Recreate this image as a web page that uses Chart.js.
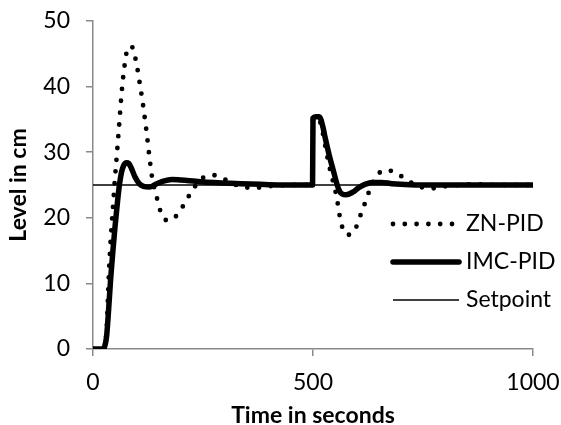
<!DOCTYPE html>
<html>
<head>
<meta charset="utf-8">
<script src="https://cdn.jsdelivr.net/npm/chart.js@4.4.1/dist/chart.umd.min.js"></script>
<style>
  html, body { margin: 0; padding: 0; background: #fff; }
  #wrap { width: 561px; height: 425px; }
</style>
</head>
<body>
<div id="wrap"><canvas id="c" width="561" height="425"></canvas></div>
<script>
// Tank level response: Ziegler-Nichols PID vs IMC-PID, setpoint 25 cm,
// with a load disturbance at t = 500 s.
const znTime = [0, 24, 28, 31, 34, 37, 42, 46, 49, 52, 54.5, 56.5, 58.5, 60.5, 62.5, 64.5, 67, 69.5, 72.5, 76, 81, 87, 92, 97, 102, 106, 110, 114, 117.5, 121, 124, 127, 130, 133.5, 139, 145, 151, 157, 164, 174, 185, 194, 202, 215, 229, 244, 257, 270, 283, 296, 310, 325, 345, 371, 398, 430, 460, 499,
  500, 512, 520, 528, 535.5, 543, 549, 554, 558, 562, 569, 578, 588, 596, 602, 610, 619, 628, 639, 648, 657, 668, 683, 695, 706, 720, 735, 751, 778, 800, 830, 870, 920, 1000];
const znLevel = [0, 0, 0.8, 3, 8, 12.8, 18.5, 22.2, 25.2, 27.8, 29.8, 31.6, 33.3, 35.1, 36.9, 38.6, 40.4, 42.0, 43.6, 45.1, 45.9, 46.2, 45.5, 44.1, 42.3, 40.6, 38.9, 37.1, 35.3, 33.5, 31.8, 30.0, 28.3, 26.5, 24.6, 23.1, 21.5, 20.4, 19.7, 19.6, 20.0, 20.7, 21.5, 23.0, 24.5, 25.8, 26.3, 26.5, 26.4, 26.0, 25.5, 25.0, 24.6, 24.6, 24.8, 24.95, 25, 25,
  35, 35.2, 33.6, 30.9, 28.3, 26.2, 24.6, 23.1, 21.4, 19.8, 18.1, 17.4, 17.6, 18.3, 19.2, 20.8, 22.4, 24.1, 25.9, 26.7, 27.1, 27.3, 27.0, 26.6, 26.1, 25.5, 24.9, 24.6, 24.5, 24.8, 25.0, 25.1, 25.0, 25];

const imcTime = [0, 22, 27, 31, 35, 40, 45, 50, 55, 60, 65, 70, 76, 81, 87, 95, 105, 115, 128, 145, 160, 179, 200, 244, 312, 400, 499,
  500, 506, 513, 518, 523, 528, 537, 547, 555, 561, 567, 575, 590, 604, 618, 635, 655, 680, 720, 800, 1000];
const imcLevel = [0, 0, 0.5, 2.0, 5.5, 10.6, 14.8, 18.6, 22.0, 25.0, 27.0, 28.0, 28.4, 28.3, 27.6, 26.3, 25.2, 24.8, 24.7, 25.2, 25.6, 25.85, 25.75, 25.5, 25.25, 25.05, 25,
  35.2, 35.4, 35.4, 35.0, 33.7, 32.1, 29.5, 27.0, 25.0, 24.0, 23.6, 23.5, 23.9, 24.6, 25.1, 25.4, 25.4, 25.2, 25.05, 25, 25];

const setpointTime = [0, 1000];
const setpointLevel = [25, 25];

const seriesNames = ['ZN-PID', 'IMC-PID', 'Setpoint'];
const xTickValues = [0, 500, 1000];
const yTickValues = [0, 10, 20, 30, 40, 50];
const xTitle = 'Time in seconds';
const yTitle = 'Level in cm';

const FONT = 'Lato';
const AXIS_GREY = '#898989';

function toPoints(times, levels) {
  return times.map((t, i) => ({ x: t, y: levels[i] }));
}

// Keep the plot box fixed: drop the extra room the axes ask for around their end labels.
function fixAxisBox(size) {
  return s => {
    if (s.isHorizontal()) s.height = size; else s.width = size;
    s.paddingTop = 0; s.paddingBottom = 0; s.paddingLeft = 0; s.paddingRight = 0;
  };
}

// Legend drawn inside the plot area, lower right, one row per series.
const innerLegend = {
  id: 'innerLegend',
  afterDatasetsDraw(chart) {
    const { ctx, chartArea } = chart;
    const lineStart = chartArea.left + 300;
    const lineEnd = chartArea.left + 366;
    const textX = chartArea.left + 373;
    const firstRow = chartArea.top + 203;
    const rowGap = 38;
    chart.data.datasets.forEach((ds, i) => {
      const y = firstRow + i * rowGap;
      ctx.save();
      ctx.strokeStyle = ds.borderColor;
      ctx.lineWidth = ds.borderWidth;
      ctx.lineCap = ds.borderCapStyle || 'butt';
      ctx.setLineDash(ds.borderDash || []);
      ctx.beginPath();
      ctx.moveTo(lineStart, y);
      ctx.lineTo(lineEnd, y);
      ctx.stroke();
      ctx.setLineDash([]);
      ctx.fillStyle = '#000';
      ctx.font = '23px ' + FONT;
      ctx.textAlign = 'left';
      ctx.textBaseline = 'middle';
      ctx.fillText(ds.label, textX, y);
      ctx.restore();
    });
  }
};

function draw() {
  Chart.defaults.font.family = FONT;
  Chart.defaults.color = '#000';

  new Chart(document.getElementById('c'), {
    type: 'line',
    data: {
      datasets: [
        {
          label: seriesNames[0],
          data: toPoints(znTime, znLevel),
          borderColor: '#000',
          borderWidth: 4.8,
          borderDash: [0, 11.8],
          borderCapStyle: 'round',
          pointRadius: 0,
          cubicInterpolationMode: 'monotone',
          fill: false
        },
        {
          label: seriesNames[1],
          data: toPoints(imcTime, imcLevel),
          borderColor: '#000',
          borderWidth: 5.5,
          borderCapStyle: 'round',
          borderJoinStyle: 'round',
          pointRadius: 0,
          cubicInterpolationMode: 'monotone',
          fill: false
        },
        {
          label: seriesNames[2],
          data: toPoints(setpointTime, setpointLevel),
          borderColor: '#000',
          borderWidth: 1.4,
          pointRadius: 0,
          tension: 0,
          fill: false
        }
      ]
    },
    options: {
      responsive: false,
      animation: false,
      devicePixelRatio: 1,
      layout: { padding: { top: 21, right: 28, left: 0, bottom: 0 } },
      plugins: {
        legend: { display: false },
        tooltip: { enabled: false }
      },
      scales: {
        x: {
          type: 'linear',
          min: 0,
          max: 1000,
          afterBuildTicks: s => { s.ticks = xTickValues.map(v => ({ value: v })); },
          afterFit: fixAxisBox(76),
          border: { display: true, color: AXIS_GREY, width: 1.5 },
          grid: { drawOnChartArea: false, drawTicks: true, tickLength: 7, color: AXIS_GREY, lineWidth: 1.5 },
          ticks: { font: { size: 23 }, padding: 13, maxRotation: 0, color: '#000', callback: v => String(v) },
          title: {
            display: true,
            text: xTitle,
            font: { size: 23, weight: 'bold', lineHeight: 1 },
            padding: { top: 0, bottom: -2 },
            color: '#000'
          }
        },
        y: {
          type: 'linear',
          min: 0,
          max: 50,
          afterBuildTicks: s => { s.ticks = yTickValues.map(v => ({ value: v })); },
          afterFit: fixAxisBox(93),
          border: { display: true, color: AXIS_GREY, width: 1.5 },
          grid: { drawOnChartArea: false, drawTicks: true, tickLength: 7, color: AXIS_GREY, lineWidth: 1.5 },
          ticks: { font: { size: 23 }, padding: 16, color: '#000', callback: v => String(v) },
          title: {
            display: true,
            text: yTitle,
            font: { size: 23, weight: 'bold', lineHeight: 1.2 },
            padding: { top: 5, bottom: 0 },
            color: '#000'
          }
        }
      }
    },
    plugins: [innerLegend]
  });
}

if (document.fonts && document.fonts.load) {
  Promise.all([
    document.fonts.load('23px ' + FONT),
    document.fonts.load('bold 23px ' + FONT)
  ]).then(draw, draw);
} else {
  draw();
}
</script>
</body>
</html>
